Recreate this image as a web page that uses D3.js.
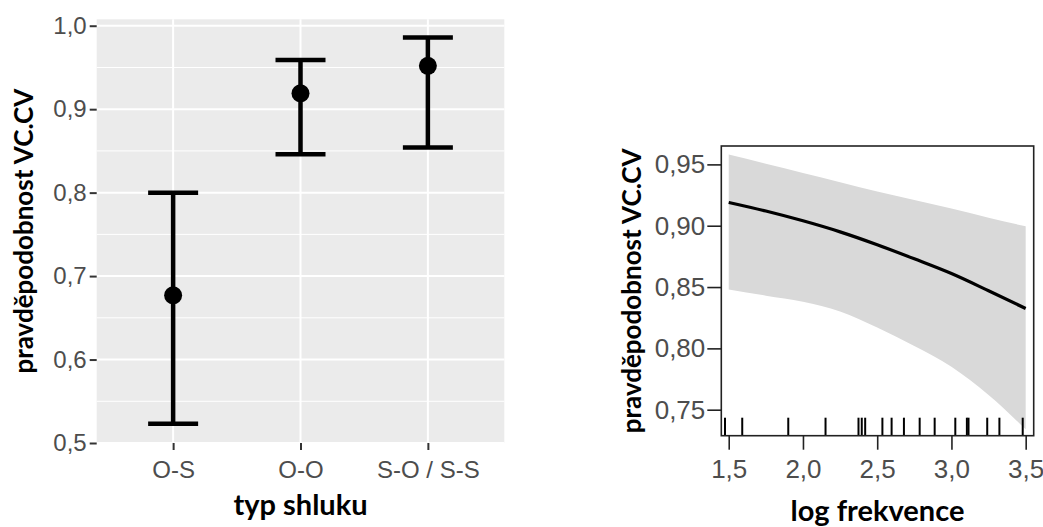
<!DOCTYPE html>
<html>
<head>
<meta charset="utf-8">
<script src="https://cdn.jsdelivr.net/npm/d3@7"></script>
<style>
  body { margin: 0; background: #fff; }
  svg { font-family: Lato, "Open Sans", sans-serif; }
</style>
</head>
<body>
<div id="chart"></div>
<script>
// left panel: cluster type estimates with 95% intervals
var clusterTypes = ['O-S', 'O-O', 'S-O / S-S'];
var clusterProb = [0.677, 0.919, 0.952];
var clusterLow = [0.523, 0.846, 0.854];
var clusterHigh = [0.800, 0.959, 0.986];
var leftTicks = [0.5, 0.6, 0.7, 0.8, 0.9, 1.0];
var leftMinor = [0.55, 0.65, 0.75, 0.85, 0.95];

// right panel: effect of log frequency
var freqX = [1.5, 1.75, 2.0, 2.25, 2.5, 2.75, 3.0, 3.25, 3.5];
var freqFit = [0.919, 0.912, 0.904, 0.895, 0.8845, 0.873, 0.861, 0.847, 0.8325];
var freqUpper = [0.958, 0.9505, 0.943, 0.9355, 0.928, 0.921, 0.914, 0.9065, 0.8995];
var freqLower = [0.848, 0.843, 0.838, 0.830, 0.817, 0.802, 0.785, 0.762, 0.734];
var rugValues = [1.475, 1.591, 1.901, 2.152, 2.374, 2.396, 2.419, 2.535, 2.597, 2.680,
  2.786, 2.887, 3.026, 3.104, 3.115, 3.241, 3.323, 3.480];
var rightXTicks = [1.5, 2.0, 2.5, 3.0, 3.5];
var rightYTicks = [0.75, 0.80, 0.85, 0.90, 0.95];

var svg = d3.select('#chart').append('svg')
  .attr('width', 1043)
  .attr('height', 527);

var comma1 = d => d3.format('.1f')(d).replace('.', ',');
var comma2 = d => d3.format('.2f')(d).replace('.', ',');

// ---------- left panel ----------
var xL = d3.scalePoint()
  .domain(clusterTypes)
  .range([96.7, 504.3])
  .padding(0.6);

var yL = d3.scaleLinear()
  .domain([0.5, 1.0077])
  .range([443, 19.3]);

var left = svg.append('g');

left.append('rect')
  .attr('x', 96.7)
  .attr('y', yL(1.0077))
  .attr('width', 504.3 - 96.7)
  .attr('height', yL(0.5) - yL(1.0077))
  .attr('fill', '#ebebeb');

left.selectAll('.minor')
  .data(leftMinor)
  .join('line')
  .attr('x1', 96.7).attr('x2', 504.3)
  .attr('y1', d => yL(d)).attr('y2', d => yL(d))
  .attr('stroke', '#fff').attr('stroke-width', 1);

left.selectAll('.major')
  .data(leftTicks)
  .join('line')
  .attr('x1', 96.7).attr('x2', 504.3)
  .attr('y1', d => yL(d)).attr('y2', d => yL(d))
  .attr('stroke', '#fff').attr('stroke-width', 2);

left.selectAll('.vmajor')
  .data(clusterTypes)
  .join('line')
  .attr('x1', d => xL(d)).attr('x2', d => xL(d))
  .attr('y1', yL(1.0077)).attr('y2', yL(0.5))
  .attr('stroke', '#fff').attr('stroke-width', 2);

var leftAxis = d3.axisLeft(yL).tickValues(leftTicks).tickFormat(comma1).tickSize(7).tickPadding(3);
var gLeftAxis = left.append('g')
  .attr('transform', 'translate(96.7,0)')
  .call(leftAxis);

var bottomAxisL = d3.axisBottom(xL).tickSize(7).tickPadding(6);
var gBottomL = left.append('g')
  .attr('transform', `translate(0,${yL(0.5)})`)
  .call(bottomAxisL);

[gLeftAxis, gBottomL].forEach(g => {
  g.select('.domain').remove();
  g.selectAll('.tick line').attr('stroke', '#333').attr('stroke-width', 2);
  g.selectAll('.tick text').attr('fill', '#4d4d4d').style('font-size', '24px').style('font-family', null);
});
gBottomL.selectAll('.tick text').attr('dy', '0.9em');

var errW = 25;
clusterTypes.forEach((c, i) => {
  var x = xL(c);
  left.append('line')
    .attr('x1', x).attr('x2', x)
    .attr('y1', yL(clusterLow[i])).attr('y2', yL(clusterHigh[i]))
    .attr('stroke', '#000').attr('stroke-width', 4.5);
  [clusterLow[i], clusterHigh[i]].forEach(v => {
    left.append('line')
      .attr('x1', x - errW).attr('x2', x + errW)
      .attr('y1', yL(v)).attr('y2', yL(v))
      .attr('stroke', '#000').attr('stroke-width', 4.5);
  });
  left.append('circle')
    .attr('cx', x).attr('cy', yL(clusterProb[i]))
    .attr('r', 9).attr('fill', '#000');
});

left.append('text')
  .attr('transform', `translate(33,${(yL(0.5) + yL(1.0077)) / 2}) rotate(-90)`)
  .attr('text-anchor', 'middle')
  .style('font-size', '26px').style('font-weight', 'bold')
  .text('pravděpodobnost VC.CV');

left.append('text')
  .attr('x', (96.7 + 504.3) / 2)
  .attr('y', 515)
  .attr('text-anchor', 'middle')
  .style('font-size', '29px').style('font-weight', 'bold')
  .text('typ shluku');

// ---------- right panel ----------
var xR = d3.scaleLinear().domain([1.45, 3.554]).range([721.3, 1033.7]);
var yR = d3.scaleLinear().domain([0.7288, 0.965]).range([435.7, 146]);

var right = svg.append('g');

var band = d3.area()
  .x((d, i) => xR(freqX[i]))
  .y0((d, i) => yR(freqLower[i]))
  .y1((d, i) => yR(freqUpper[i]))
  .curve(d3.curveMonotoneX);

right.append('path')
  .attr('d', band(freqX))
  .attr('fill', '#d9d9d9');

var fitLine = d3.line()
  .x((d, i) => xR(freqX[i]))
  .y((d, i) => yR(freqFit[i]))
  .curve(d3.curveMonotoneX);

right.append('path')
  .attr('d', fitLine(freqX))
  .attr('fill', 'none')
  .attr('stroke', '#000')
  .attr('stroke-width', 3.2);

right.selectAll('.rug')
  .data(rugValues)
  .join('line')
  .attr('x1', d => xR(d)).attr('x2', d => xR(d))
  .attr('y1', 435.7 - 18).attr('y2', 435.7)
  .attr('stroke', '#000').attr('stroke-width', 2);

right.append('rect')
  .attr('x', 721.3).attr('y', 146)
  .attr('width', 1033.7 - 721.3).attr('height', 435.7 - 146)
  .attr('fill', 'none')
  .attr('stroke', '#222').attr('stroke-width', 1.6);

var gLeftR = right.append('g')
  .attr('transform', 'translate(721.3,0)')
  .call(d3.axisLeft(yR).tickValues(rightYTicks).tickFormat(comma2).tickSize(14).tickPadding(2));

var gBottomR = right.append('g')
  .attr('transform', 'translate(0,435.7)')
  .call(d3.axisBottom(xR).tickValues(rightXTicks).tickFormat(comma1).tickSize(14).tickPadding(6));

[gLeftR, gBottomR].forEach(g => {
  g.select('.domain').remove();
  g.selectAll('.tick line').attr('stroke', '#222').attr('stroke-width', 1.6);
  g.selectAll('.tick text').attr('fill', '#4d4d4d').style('font-size', '26px').style('font-family', null);
});
gBottomR.selectAll('.tick text').attr('dy', '0.85em');

right.append('text')
  .attr('transform', `translate(641,${(146 + 435.7) / 2}) rotate(-90)`)
  .attr('text-anchor', 'middle')
  .style('font-size', '26px').style('font-weight', 'bold')
  .text('pravděpodobnost VC.CV');

right.append('text')
  .attr('x', (721.3 + 1033.7) / 2)
  .attr('y', 521)
  .attr('text-anchor', 'middle')
  .style('font-size', '29px').style('font-weight', 'bold')
  .text('log frekvence');
</script>
</body>
</html>
